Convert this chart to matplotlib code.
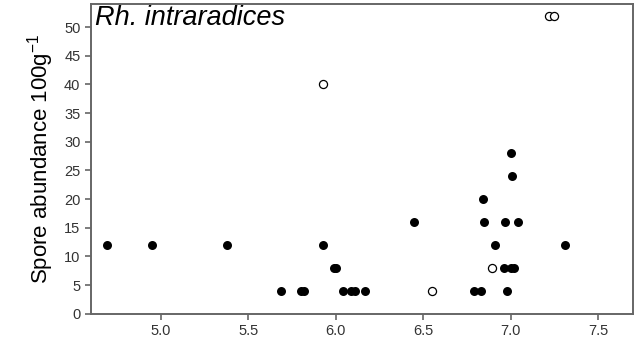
import matplotlib.pyplot as plt
import numpy as np

plt.rcParams['mathtext.fontset'] = 'custom'
plt.rcParams['mathtext.rm'] = 'Liberation Sans'
plt.rcParams['mathtext.it'] = 'Liberation Sans:italic'

# pH vs spore abundance, filled and open symbols
ph_solid = [4.69, 4.95, 5.38, 5.93, 6.91, 7.31,
            5.685, 5.80, 5.82, 6.04, 6.09, 6.11, 6.17, 6.79, 6.83, 6.98,
            5.99, 6.00, 6.965, 7.00, 7.02,
            6.445, 6.85, 6.97, 7.04,
            6.84, 7.01, 7.00]
spores_solid = [12, 12, 12, 12, 12, 12,
                4, 4, 4, 4, 4, 4, 4, 4, 4, 4,
                8, 8, 8, 8, 8,
                16, 16, 16, 16,
                20, 24, 28]
ph_open = [5.93, 6.55, 6.895, 7.22, 7.25]
spores_open = [40, 4, 8, 52, 52]

fig = plt.figure(figsize=(6.4, 3.44), dpi=100)
ax = fig.add_axes([0.142, 0.088, 0.847, 0.9])

ax.scatter(ph_solid, spores_solid, s=42, c='black', marker='o', linewidths=0, zorder=3)
ax.scatter(ph_open, spores_open, s=34, facecolors='white', edgecolors='black',
           marker='o', linewidths=0.9, zorder=3)

ax.set_xlim(4.6, 7.7)
ax.set_ylim(0, 54)
ax.set_xticks(np.arange(5.0, 7.51, 0.5))
ax.set_xticklabels(['5.0', '5.5', '6.0', '6.5', '7.0', '7.5'])
ax.set_yticks(np.arange(0, 51, 5))

for s in ax.spines.values():
    s.set_color('#666666')
    s.set_linewidth(1.4)
ax.tick_params(axis='both', colors='#666666', labelcolor='#333333',
               labelsize=10.5, length=4, width=1.2)
for lab in ax.get_xticklabels() + ax.get_yticklabels():
    lab.set_family('Liberation Sans')

ax.set_ylabel('Spore abundance 100g$^{\\mathrm{-1}}$', fontsize=16, family='Liberation Sans',
              labelpad=6)
ax.text(0.008, 0.997, 'Rh. intraradices', transform=ax.transAxes, ha='left', va='top',
        fontsize=19.5, style='italic', family='Liberation Sans')

plt.savefig('out.png', dpi=100)
